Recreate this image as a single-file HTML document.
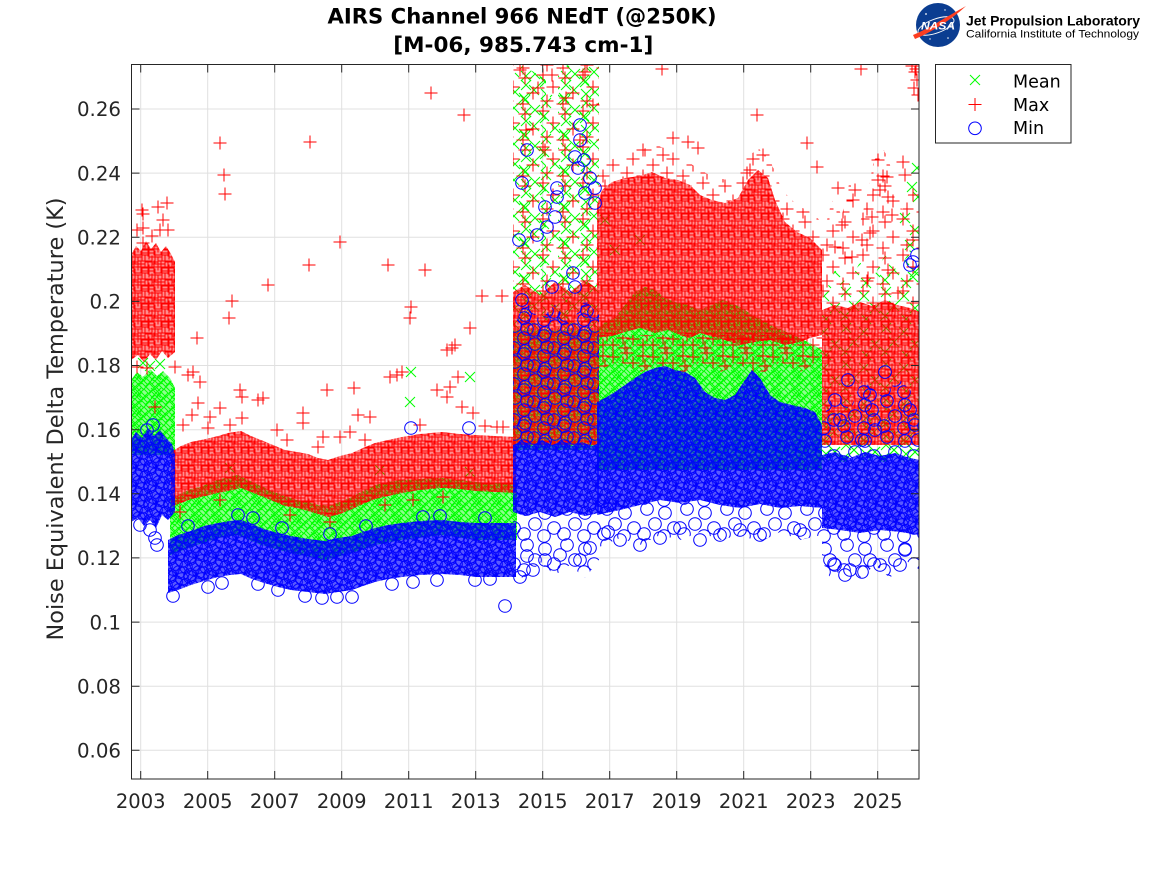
<!DOCTYPE html>
<html><head><meta charset="utf-8">
<style>
html,body{margin:0;padding:0;background:#fff;}
svg{display:block;}
</style></head><body>
<svg width="1167" height="875" viewBox="0 0 1167 875" xmlns="http://www.w3.org/2000/svg">
<defs>
<clipPath id="c"><rect x="131.5" y="64.5" width="787.5" height="714.5"/></clipPath>
<path id="gP" fill="none" stroke="#ff0000" stroke-width="1" d="M-4.5 3h13M2-3.5v13M2.5 1h13M9-5.5v13M8.5 5h13M15-1.5v13M-1.5 9h13M5 2.5v13M5.5 10h13M12 3.5v13M11.5 12h13M18 5.5v13M-5.5 15h13M1 8.5v13M1.5 16h13M8 9.5v13M7.5 15h13M14 8.5v13"/>
<path id="gX" fill="none" stroke="#00ff00" stroke-width="1" d="M-2-3l10 10m-10 0l10-10M5-1l10 10m-10 0l10-10M12-4l10 10m-10 0l10-10M1 4l10 10m-10 0l10-10M9 5l10 10m-10 0l10-10M14 2l10 10m-10 0l10-10M-4 9l10 10m-10 0l10-10M4 11l10 10m-10 0l10-10M11 10l10 10m-10 0l10-10"/>
<path id="gO" fill="none" stroke="#0000ff" stroke-width="1" d="M-4.3 3a6.3 6.3 0 1 0 12.6 0a6.3 6.3 0 1 0-12.6 0M3.7 1a6.3 6.3 0 1 0 12.6 0a6.3 6.3 0 1 0-12.6 0M9.7 6a6.3 6.3 0 1 0 12.6 0a6.3 6.3 0 1 0-12.6 0M-0.3 9a6.3 6.3 0 1 0 12.6 0a6.3 6.3 0 1 0-12.6 0M6.7 11a6.3 6.3 0 1 0 12.6 0a6.3 6.3 0 1 0-12.6 0M12.7 14a6.3 6.3 0 1 0 12.6 0a6.3 6.3 0 1 0-12.6 0M-3.3 15a6.3 6.3 0 1 0 12.6 0a6.3 6.3 0 1 0-12.6 0M3.7 17a6.3 6.3 0 1 0 12.6 0a6.3 6.3 0 1 0-12.6 0"/>
<path id="sP" fill="none" stroke="#ff0000" stroke-width="1" d="M-1.5 6h13M5-0.5v13M16.5 3h13M23-3.5v13M26.5 15h13M33 8.5v13M6.5 21h13M13 14.5v13M20.5 29h13M27 22.5v13M-3.5 32h13M3 25.5v13"/>
<path id="sX" fill="none" stroke="#00ff00" stroke-width="1" d="M1-1l10 10m-10 0l10-10M19 3l10 10m-10 0l10-10M30 15l10 10m-10 0l10-10M9 13l10 10m-10 0l10-10M21 26l10 10m-10 0l10-10M0 23l10 10m-10 0l10-10"/>
<path id="sO" fill="none" stroke="#0000ff" stroke-width="1" d="M0.7 5a6.3 6.3 0 1 0 12.6 0a6.3 6.3 0 1 0-12.6 0M18.7 9a6.3 6.3 0 1 0 12.6 0a6.3 6.3 0 1 0-12.6 0M27.7 24a6.3 6.3 0 1 0 12.6 0a6.3 6.3 0 1 0-12.6 0M8.7 20a6.3 6.3 0 1 0 12.6 0a6.3 6.3 0 1 0-12.6 0M17.7 32a6.3 6.3 0 1 0 12.6 0a6.3 6.3 0 1 0-12.6 0M-2.3 30a6.3 6.3 0 1 0 12.6 0a6.3 6.3 0 1 0-12.6 0"/>
<path id="mP" fill="none" stroke="#ff0000" stroke-width="1" d="M-6.5 0h13M0-6.5v13"/>
<path id="mX" fill="none" stroke="#00ff00" stroke-width="1" d="M-5-5l10 10M-5 5l10-10"/>
<circle id="mO" r="6.3" fill="none" stroke="#0000ff" stroke-width="1"/>

<pattern id="pRd" width="20" height="18" patternUnits="userSpaceOnUse">
<rect width="20" height="18" fill="#ff0000" fill-opacity="0.45"/>
<use href="#gP" x="-20" y="-18"/><use href="#gP" x="0" y="-18"/><use href="#gP" x="20" y="-18"/>
<use href="#gP" x="-20" y="0"/><use href="#gP" x="0" y="0"/><use href="#gP" x="20" y="0"/>
<use href="#gP" x="-20" y="18"/><use href="#gP" x="0" y="18"/><use href="#gP" x="20" y="18"/>
</pattern>
<pattern id="pGd" width="20" height="18" patternUnits="userSpaceOnUse">
<rect width="20" height="18" fill="#00ff00" fill-opacity="0.45"/>
<use href="#gX" x="-20" y="-18"/><use href="#gX" x="0" y="-18"/><use href="#gX" x="20" y="-18"/>
<use href="#gX" x="-20" y="0"/><use href="#gX" x="0" y="0"/><use href="#gX" x="20" y="0"/>
<use href="#gX" x="-20" y="18"/><use href="#gX" x="0" y="18"/><use href="#gX" x="20" y="18"/>
</pattern>
<pattern id="pBd" width="20" height="18" patternUnits="userSpaceOnUse">
<rect width="20" height="18" fill="#0000ff" fill-opacity="0.65"/>
<use href="#gO" x="-20" y="-18"/><use href="#gO" x="0" y="-18"/><use href="#gO" x="20" y="-18"/>
<use href="#gO" x="-20" y="0"/><use href="#gO" x="0" y="0"/><use href="#gO" x="20" y="0"/>
<use href="#gO" x="-20" y="18"/><use href="#gO" x="0" y="18"/><use href="#gO" x="20" y="18"/>
</pattern>
<pattern id="pRs" width="40" height="36" patternUnits="userSpaceOnUse">
<use href="#sP" x="-40" y="-36"/><use href="#sP" x="0" y="-36"/><use href="#sP" x="40" y="-36"/>
<use href="#sP" x="-40" y="0"/><use href="#sP" x="0" y="0"/><use href="#sP" x="40" y="0"/>
<use href="#sP" x="-40" y="36"/><use href="#sP" x="0" y="36"/><use href="#sP" x="40" y="36"/>
</pattern>
<pattern id="pGs" width="40" height="36" patternUnits="userSpaceOnUse">
<use href="#sX" x="-40" y="-36"/><use href="#sX" x="0" y="-36"/><use href="#sX" x="40" y="-36"/>
<use href="#sX" x="-40" y="0"/><use href="#sX" x="0" y="0"/><use href="#sX" x="40" y="0"/>
<use href="#sX" x="-40" y="36"/><use href="#sX" x="0" y="36"/><use href="#sX" x="40" y="36"/>
</pattern>
<pattern id="pBs" width="40" height="36" patternUnits="userSpaceOnUse">
<use href="#sO" x="-40" y="-36"/><use href="#sO" x="0" y="-36"/><use href="#sO" x="40" y="-36"/>
<use href="#sO" x="-40" y="0"/><use href="#sO" x="0" y="0"/><use href="#sO" x="40" y="0"/>
<use href="#sO" x="-40" y="36"/><use href="#sO" x="0" y="36"/><use href="#sO" x="40" y="36"/>
</pattern>
<pattern id="pRm" width="40" height="36" patternUnits="userSpaceOnUse">
<use href="#sP" x="-40" y="-36"/><use href="#sP" x="0" y="-36"/><use href="#sP" x="40" y="-36"/>
<use href="#sP" x="-40" y="0"/><use href="#sP" x="0" y="0"/><use href="#sP" x="40" y="0"/>
<use href="#sP" x="-40" y="36"/><use href="#sP" x="0" y="36"/><use href="#sP" x="40" y="36"/>
<use href="#sP" x="-20" y="-18"/><use href="#sP" x="20" y="-18"/><use href="#sP" x="-20" y="18"/><use href="#sP" x="20" y="18"/>
</pattern>
<pattern id="pGm" width="40" height="36" patternUnits="userSpaceOnUse">
<use href="#sX" x="-40" y="-36"/><use href="#sX" x="0" y="-36"/><use href="#sX" x="40" y="-36"/>
<use href="#sX" x="-40" y="0"/><use href="#sX" x="0" y="0"/><use href="#sX" x="40" y="0"/>
<use href="#sX" x="-40" y="36"/><use href="#sX" x="0" y="36"/><use href="#sX" x="40" y="36"/>
<use href="#sX" x="-20" y="-18"/><use href="#sX" x="20" y="-18"/><use href="#sX" x="-20" y="18"/><use href="#sX" x="20" y="18"/>
</pattern>
<pattern id="pBm" width="40" height="36" patternUnits="userSpaceOnUse">
<use href="#sO" x="-40" y="-36"/><use href="#sO" x="0" y="-36"/><use href="#sO" x="40" y="-36"/>
<use href="#sO" x="-40" y="0"/><use href="#sO" x="0" y="0"/><use href="#sO" x="40" y="0"/>
<use href="#sO" x="-40" y="36"/><use href="#sO" x="0" y="36"/><use href="#sO" x="40" y="36"/>
<use href="#sO" x="-20" y="-18"/><use href="#sO" x="20" y="-18"/><use href="#sO" x="-20" y="18"/><use href="#sO" x="20" y="18"/>
</pattern>
</defs>

<rect width="1167" height="875" fill="#fff"/>

<g stroke="#e0e0e0" stroke-width="1" fill="none">
<path d="M140.7 64.5V779M207.7 64.5V779M274.7 64.5V779M341.7 64.5V779M408.7 64.5V779M475.7 64.5V779M542.7 64.5V779M609.7 64.5V779M676.7 64.5V779M743.7 64.5V779M810.7 64.5V779M877.7 64.5V779"/>
<path d="M131.5 750.3H919M131.5 686.2H919M131.5 622.1H919M131.5 557.9H919M131.5 493.8H919M131.5 429.7H919M131.5 365.5H919M131.5 301.4H919M131.5 237.3H919M131.5 173.1H919M131.5 109H919"/>
</g>

<g clip-path="url(#c)">
<!-- ===== MEAN (green) ===== -->
<path fill="url(#pGd)" d="M131 380L137 372L143 377L150 369L157 376L163 371L170 378L175 388L175 455L131 455Z"/>
<path fill="url(#pGd)" d="M170 500L180 494L191 489L200 487L210 483L218 480L228 477L238 475L250 481L261 486L272 491L285 496L297 500L308 502L318 505L328 506L340 502L352 497L363 491L375 485L388 482L402 480L420 479L442 478L460 480L476 482L495 483L517 484L517 540L476 540L442 535L402 540L375 545L352 553L325 560L291 553L261 545L238 535L218 538L191 547L170 555Z"/>
<path fill="url(#pGm)" d="M513 75L522 66L534 72L546 80L546 330L513 330Z"/>
<path fill="url(#pGs)" d="M546 90L558 100L558 330L546 330Z"/>
<path fill="url(#pGm)" d="M558 70L570 64L585 68L599 64L599 330L558 330Z"/>
<path fill="url(#pGd)" d="M513 330L599 330L599 450L513 450Z"/>
<path fill="url(#pGd)" d="M597 330L605 322L615 318L625 305L635 292L645 287L655 290L665 298L675 302L688 305L700 310L712 305L722 300L732 303L742 308L752 315L762 320L772 326L782 330L795 336L808 342L822 350L822 470L597 470Z"/>
<path fill="url(#pGs)" d="M822 300L835 270L848 285L860 262L872 280L885 255L898 272L910 250L920 240L920 460L822 460Z"/>
<path fill="url(#pGm)" d="M822 410L840 400L860 408L880 398L900 405L920 398L920 462L822 462Z"/>
<g>
<use href="#mX" x="411" y="372"/><use href="#mX" x="410" y="402"/><use href="#mX" x="470" y="377"/>
<use href="#mX" x="143" y="363"/><use href="#mX" x="150" y="366"/><use href="#mX" x="160" y="364"/>
<use href="#mX" x="917" y="168"/><use href="#mX" x="912" y="187"/><use href="#mX" x="918" y="197"/><use href="#mX" x="913" y="277"/>
<use href="#mX" x="915" y="230"/><use href="#mX" x="910" y="245"/><use href="#mX" x="905" y="218"/>
<use href="#mX" x="615" y="250"/><use href="#mX" x="640" y="240"/><use href="#mX" x="605" y="220"/>
<use href="#mX" x="230" y="468"/><use href="#mX" x="380" y="470"/><use href="#mX" x="470" y="472"/>
</g>

<!-- ===== MAX (red) ===== -->
<path fill="url(#pRd)" d="M131 255L136 246L141 251L146 241L151 249L156 243L161 252L166 246L171 254L175 262L175 352L168 358L162 351L156 360L150 354L144 362L138 355L131 360Z"/>
<path fill="url(#pRd)" d="M171 452L181 446L191 442L201 440L210 438L218 436L228 433L241 431L251 436L261 440L273 445L285 450L297 452L308 454L318 458L328 460L340 456L352 453L363 448L375 443L388 440L402 437L420 434L442 432L460 434L476 435L495 436L516 437L516 493L495 492L476 491L460 489L442 488L420 490L402 493L388 496L375 499L363 504L352 509L340 514L328 517L318 514L308 511L297 508L285 506L273 501L261 496L251 492L241 488L228 491L218 493L201 497L191 499L181 503L171 507Z"/>
<path fill="url(#pRs)" d="M513 62L599 62L599 290L585 280L570 292L555 282L540 295L525 285L513 292Z"/>
<path fill="url(#pRd)" d="M513 292L525 285L540 295L555 282L570 292L585 280L599 290L599 445L513 445Z"/>
<path fill="url(#pRs)" d="M597 175L610 160L625 155L640 150L655 145L670 150L685 160L700 170L715 178L730 180L745 160L758 148L770 160L782 190L797 205L810 212L822 222L822 250L810 238L797 232L785 222L775 200L768 178L758 170L748 180L738 198L725 203L712 200L700 195L690 185L678 180L665 178L652 172L640 176L625 178L612 182L602 190L597 205Z"/>
<path fill="url(#pRd)" d="M597 205L602 190L612 182L625 178L640 176L652 172L665 178L678 180L690 185L700 195L712 200L725 203L738 198L748 180L758 170L768 178L775 200L785 222L797 232L810 238L822 250L822 335L810 338L800 342L785 345L770 340L755 342L740 345L725 340L710 336L700 333L690 338L680 335L668 330L655 333L640 328L625 332L612 336L597 338Z"/>
<path fill="url(#pRm)" d="M597 335L822 335L822 360L800 372L780 362L760 375L740 365L720 372L700 362L680 375L660 365L640 372L620 362L597 370Z"/>
<path fill="url(#pRs)" d="M822 240L832 200L842 215L850 180L858 230L866 200L874 160L884 150L894 175L902 210L910 190L920 175L920 312L822 312Z"/>
<path fill="url(#pRd)" d="M822 310L835 305L848 308L860 302L872 306L885 300L897 305L910 308L920 312L920 445L822 445Z"/>
<g>
<use href="#mP" x="142" y="210"/><use href="#mP" x="143" y="214"/><use href="#mP" x="143" y="228"/><use href="#mP" x="158" y="207"/><use href="#mP" x="167" y="203"/><use href="#mP" x="163" y="220"/><use href="#mP" x="168" y="230"/><use href="#mP" x="160" y="230"/><use href="#mP" x="143" y="243"/><use href="#mP" x="137" y="230"/><use href="#mP" x="152" y="236"/><use href="#mP" x="137" y="367"/><use href="#mP" x="155" y="407"/><use href="#mP" x="175" y="367"/><use href="#mP" x="147" y="368"/>
<use href="#mP" x="220" y="143"/><use href="#mP" x="224" y="175"/><use href="#mP" x="225" y="194"/><use href="#mP" x="232" y="301"/><use href="#mP" x="229" y="318"/><use href="#mP" x="268" y="285"/><use href="#mP" x="310" y="142"/><use href="#mP" x="309" y="265"/><use href="#mP" x="340" y="242"/><use href="#mP" x="388" y="265"/><use href="#mP" x="411" y="307"/><use href="#mP" x="410" y="318"/><use href="#mP" x="425" y="270"/><use href="#mP" x="431" y="93"/><use href="#mP" x="464" y="115"/><use href="#mP" x="452" y="348"/><use href="#mP" x="455" y="345"/><use href="#mP" x="470" y="328"/><use href="#mP" x="482" y="296"/><use href="#mP" x="502" y="296"/><use href="#mP" x="354" y="388"/>
<use href="#mP" x="197" y="338"/><use href="#mP" x="188" y="375"/><use href="#mP" x="193" y="372"/><use href="#mP" x="200" y="382"/><use href="#mP" x="198" y="403"/><use href="#mP" x="192" y="415"/><use href="#mP" x="183" y="425"/><use href="#mP" x="240" y="390"/><use href="#mP" x="242" y="397"/><use href="#mP" x="258" y="400"/><use href="#mP" x="263" y="398"/><use href="#mP" x="220" y="408"/><use href="#mP" x="210" y="417"/><use href="#mP" x="242" y="418"/><use href="#mP" x="230" y="425"/><use href="#mP" x="277" y="430"/><use href="#mP" x="303" y="413"/><use href="#mP" x="303" y="423"/><use href="#mP" x="327" y="390"/><use href="#mP" x="323" y="437"/><use href="#mP" x="340" y="437"/><use href="#mP" x="350" y="432"/><use href="#mP" x="358" y="415"/><use href="#mP" x="370" y="417"/><use href="#mP" x="390" y="377"/><use href="#mP" x="397" y="375"/><use href="#mP" x="402" y="372"/><use href="#mP" x="447" y="350"/><use href="#mP" x="458" y="377"/><use href="#mP" x="450" y="387"/><use href="#mP" x="437" y="390"/><use href="#mP" x="447" y="397"/><use href="#mP" x="462" y="407"/><use href="#mP" x="473" y="413"/><use href="#mP" x="497" y="427"/><use href="#mP" x="503" y="427"/><use href="#mP" x="413" y="500"/><use href="#mP" x="443" y="497"/><use href="#mP" x="220" y="500"/><use href="#mP" x="290" y="515"/><use href="#mP" x="330" y="522"/><use href="#mP" x="385" y="505"/><use href="#mP" x="180" y="512"/>
<use href="#mP" x="208" y="428"/><use href="#mP" x="287" y="440"/><use href="#mP" x="318" y="447"/><use href="#mP" x="365" y="440"/><use href="#mP" x="420" y="425"/><use href="#mP" x="485" y="426"/>
<use href="#mP" x="520" y="70"/><use href="#mP" x="538" y="88"/><use href="#mP" x="552" y="75"/><use href="#mP" x="566" y="98"/><use href="#mP" x="585" y="72"/><use href="#mP" x="593" y="105"/><use href="#mP" x="526" y="130"/><use href="#mP" x="545" y="150"/><use href="#mP" x="580" y="140"/>
<use href="#mP" x="662" y="69"/><use href="#mP" x="673" y="138"/><use href="#mP" x="688" y="142"/><use href="#mP" x="698" y="148"/><use href="#mP" x="643" y="150"/><use href="#mP" x="663" y="155"/><use href="#mP" x="757" y="115"/><use href="#mP" x="807" y="143"/><use href="#mP" x="817" y="167"/><use href="#mP" x="750" y="170"/><use href="#mP" x="763" y="155"/>
<use href="#mP" x="878" y="160"/><use href="#mP" x="903" y="162"/><use href="#mP" x="887" y="177"/><use href="#mP" x="888" y="197"/><use href="#mP" x="838" y="188"/><use href="#mP" x="855" y="190"/><use href="#mP" x="853" y="200"/><use href="#mP" x="872" y="217"/><use href="#mP" x="870" y="233"/><use href="#mP" x="835" y="247"/><use href="#mP" x="852" y="257"/><use href="#mP" x="868" y="278"/><use href="#mP" x="888" y="270"/><use href="#mP" x="913" y="240"/><use href="#mP" x="898" y="293"/><use href="#mP" x="861" y="69"/><use href="#mP" x="878" y="180"/><use href="#mP" x="880" y="190"/><use href="#mP" x="905" y="175"/><use href="#mP" x="892" y="215"/><use href="#mP" x="842" y="225"/><use href="#mP" x="862" y="240"/>
<use href="#mP" x="912" y="66"/><use href="#mP" x="915" y="72"/><use href="#mP" x="917" y="80"/><use href="#mP" x="914" y="88"/><use href="#mP" x="918" y="95"/><use href="#mP" x="916" y="69"/>
</g>

<!-- ===== MIN (blue) ===== -->
<path fill="url(#pBd)" d="M131 440L136 432L142 438L148 428L154 436L160 430L166 438L172 444L175 455L175 512L168 520L162 515L156 528L150 520L144 526L138 518L131 522Z"/>
<path fill="url(#pBd)" d="M168 540L178 535L191 531L204 526L218 523L230 521L241 520L252 524L264 529L278 533L291 536L308 539L325 541L338 538L352 536L363 532L375 528L388 525L402 523L420 521L442 520L460 522L476 523L495 523L516 523L516 577L495 577L476 577L460 575L442 574L420 575L402 577L388 579L375 582L363 586L352 590L338 592L325 594L308 592L291 590L278 587L264 583L252 579L241 574L230 575L218 577L204 581L191 585L178 590L168 593Z"/>
<path fill="url(#pBm)" d="M513 330L525 300L540 320L555 305L570 325L585 300L599 315L599 445L513 445Z"/>
<path fill="url(#pBd)" d="M513 445L522 441L532 446L542 440L552 445L562 441L572 446L582 442L592 446L599 443L599 513L585 516L570 512L555 517L540 512L525 516L513 512Z"/>
<path fill="url(#pBs)" d="M513 512L599 512L599 560L585 578L570 565L555 575L540 562L525 580L513 570Z"/>
<path fill="url(#pBd)" d="M597 402L605 398L615 392L625 385L635 378L645 372L655 368L665 366L675 370L685 372L695 378L705 392L715 398L725 400L735 395L745 380L752 370L760 378L770 395L780 402L792 405L805 408L815 412L822 425L822 508L800 506L780 508L760 504L740 508L720 505L700 500L680 503L660 500L640 505L620 510L597 515Z"/>
<path fill="url(#pBs)" d="M597 500L822 500L822 535L800 540L780 532L760 542L740 535L720 540L700 532L680 540L660 535L640 545L620 538L597 548Z"/>
<path fill="url(#pBs)" d="M822 420L835 390L850 410L862 380L880 395L900 380L920 400L920 458L822 458Z"/>
<path fill="url(#pBd)" d="M822 455L835 452L850 458L865 452L880 456L895 453L910 458L920 460L920 535L900 532L880 530L860 533L840 530L822 528Z"/>
<path fill="url(#pBs)" d="M822 528L920 528L920 570L905 560L890 578L875 565L860 578L845 568L830 578L822 560Z"/>
<g>
<use href="#mO" x="505" y="606"/><use href="#mO" x="352" y="597"/><use href="#mO" x="411" y="428"/><use href="#mO" x="469" y="428"/>
<use href="#mO" x="173" y="596"/><use href="#mO" x="208" y="587"/><use href="#mO" x="222" y="583"/><use href="#mO" x="258" y="584"/><use href="#mO" x="278" y="590"/><use href="#mO" x="305" y="596"/><use href="#mO" x="322" y="598"/><use href="#mO" x="337" y="597"/><use href="#mO" x="392" y="584"/><use href="#mO" x="413" y="582"/><use href="#mO" x="437" y="580"/><use href="#mO" x="475" y="580"/><use href="#mO" x="490" y="579"/>
<use href="#mO" x="188" y="526"/><use href="#mO" x="238" y="515"/><use href="#mO" x="253" y="518"/><use href="#mO" x="282" y="528"/><use href="#mO" x="440" y="516"/><use href="#mO" x="423" y="517"/><use href="#mO" x="485" y="518"/><use href="#mO" x="330" y="534"/><use href="#mO" x="366" y="526"/>
<use href="#mO" x="150" y="530"/><use href="#mO" x="155" y="538"/><use href="#mO" x="157" y="545"/><use href="#mO" x="140" y="525"/><use href="#mO" x="153" y="425"/><use href="#mO" x="147" y="430"/>
<use href="#mO" x="527" y="150"/><use href="#mO" x="522" y="183"/><use href="#mO" x="557" y="188"/><use href="#mO" x="557" y="197"/><use href="#mO" x="545" y="207"/><use href="#mO" x="547" y="227"/><use href="#mO" x="537" y="235"/><use href="#mO" x="555" y="217"/><use href="#mO" x="580" y="125"/><use href="#mO" x="580" y="140"/><use href="#mO" x="575" y="157"/><use href="#mO" x="578" y="168"/><use href="#mO" x="585" y="193"/><use href="#mO" x="595" y="188"/><use href="#mO" x="595" y="203"/><use href="#mO" x="573" y="273"/><use href="#mO" x="575" y="287"/><use href="#mO" x="552" y="287"/><use href="#mO" x="522" y="300"/><use href="#mO" x="519" y="240"/><use href="#mO" x="584" y="160"/><use href="#mO" x="590" y="178"/>
<use href="#mO" x="520" y="577"/><use href="#mO" x="533" y="570"/><use href="#mO" x="545" y="560"/><use href="#mO" x="560" y="555"/><use href="#mO" x="580" y="560"/><use href="#mO" x="527" y="556"/><use href="#mO" x="590" y="548"/>
<use href="#mO" x="620" y="540"/><use href="#mO" x="640" y="545"/><use href="#mO" x="660" y="538"/><use href="#mO" x="700" y="540"/><use href="#mO" x="720" y="535"/><use href="#mO" x="760" y="535"/><use href="#mO" x="800" y="530"/><use href="#mO" x="608" y="532"/><use href="#mO" x="680" y="528"/><use href="#mO" x="740" y="530"/>
<use href="#mO" x="835" y="565"/><use href="#mO" x="850" y="570"/><use href="#mO" x="862" y="572"/><use href="#mO" x="880" y="565"/><use href="#mO" x="845" y="575"/><use href="#mO" x="870" y="560"/><use href="#mO" x="830" y="560"/><use href="#mO" x="905" y="550"/><use href="#mO" x="900" y="565"/>
<use href="#mO" x="913" y="262"/><use href="#mO" x="917" y="255"/><use href="#mO" x="910" y="265"/>
<use href="#mO" x="835" y="400"/><use href="#mO" x="840" y="420"/><use href="#mO" x="848" y="380"/><use href="#mO" x="870" y="395"/><use href="#mO" x="872" y="410"/><use href="#mO" x="875" y="430"/><use href="#mO" x="910" y="410"/><use href="#mO" x="915" y="425"/><use href="#mO" x="918" y="440"/><use href="#mO" x="885" y="372"/><use href="#mO" x="862" y="440"/>
</g>
</g>

<g stroke="#262626" stroke-width="1" fill="none">
<rect x="131.5" y="64.5" width="787.5" height="714.5"/>
<path d="M140.7 779v-8M207.7 779v-8M274.7 779v-8M341.7 779v-8M408.7 779v-8M475.7 779v-8M542.7 779v-8M609.7 779v-8M676.7 779v-8M743.7 779v-8M810.7 779v-8M877.7 779v-8"/>
<path d="M140.7 64.5v8M207.7 64.5v8M274.7 64.5v8M341.7 64.5v8M408.7 64.5v8M475.7 64.5v8M542.7 64.5v8M609.7 64.5v8M676.7 64.5v8M743.7 64.5v8M810.7 64.5v8M877.7 64.5v8"/>
<path d="M131.5 750.3h8M131.5 686.2h8M131.5 622.1h8M131.5 557.9h8M131.5 493.8h8M131.5 429.7h8M131.5 365.5h8M131.5 301.4h8M131.5 237.3h8M131.5 173.1h8M131.5 109h8"/>
<path d="M919 750.3h-8M919 686.2h-8M919 622.1h-8M919 557.9h-8M919 493.8h-8M919 429.7h-8M919 365.5h-8M919 301.4h-8M919 237.3h-8M919 173.1h-8M919 109h-8"/>
</g>

<g font-family="DejaVu Sans, Liberation Sans, sans-serif" font-size="19.8" fill="#262626" text-anchor="end">
<text x="121" y="757.5">0.06</text>
<text x="121" y="693.4">0.08</text>
<text x="121" y="629.3">0.1</text>
<text x="121" y="565.1">0.12</text>
<text x="121" y="501">0.14</text>
<text x="121" y="436.9">0.16</text>
<text x="121" y="372.7">0.18</text>
<text x="121" y="308.6">0.2</text>
<text x="121" y="244.5">0.22</text>
<text x="121" y="180.3">0.24</text>
<text x="121" y="116.2">0.26</text>
</g>
<g font-family="DejaVu Sans, Liberation Sans, sans-serif" font-size="19.5" fill="#262626" text-anchor="middle">
<text x="140.7" y="808">2003</text>
<text x="207.7" y="808">2005</text>
<text x="274.7" y="808">2007</text>
<text x="341.7" y="808">2009</text>
<text x="408.7" y="808">2011</text>
<text x="475.7" y="808">2013</text>
<text x="542.7" y="808">2015</text>
<text x="609.7" y="808">2017</text>
<text x="676.7" y="808">2019</text>
<text x="743.7" y="808">2021</text>
<text x="810.7" y="808">2023</text>
<text x="877.7" y="808">2025</text>
</g>

<text transform="translate(63,419) rotate(-90)" font-family="DejaVu Sans, Liberation Sans, sans-serif" font-size="22" fill="#262626" text-anchor="middle" textLength="443" lengthAdjust="spacingAndGlyphs">Noise Equivalent Delta Temperature (K)</text>

<g font-family="DejaVu Sans, Liberation Sans, sans-serif" font-size="21.5" font-weight="bold" fill="#000" text-anchor="middle">
<text x="522" y="23.5" textLength="389" lengthAdjust="spacingAndGlyphs">AIRS Channel 966 NEdT (@250K)</text>
<text x="523.3" y="52" textLength="260" lengthAdjust="spacingAndGlyphs">[M-06, 985.743 cm-1]</text>
</g>

<g>
<circle cx="938" cy="25" r="22" fill="#0b3d91"/>
<circle cx="926" cy="14" r="0.9" fill="#fff"/>
<circle cx="948" cy="38" r="0.8" fill="#fff"/>
<circle cx="930" cy="39" r="0.7" fill="#fff"/>
<circle cx="945" cy="10" r="0.7" fill="#fff"/>
<ellipse cx="936" cy="26" rx="19" ry="7" fill="none" stroke="#fff" stroke-width="0.9" transform="rotate(-20 936 26)"/>
<path d="M913 35 C 928 29, 946 17, 966 6 C 952 19, 934 31, 915 39 Z" fill="#fc3d21"/>
<text x="938" y="29.5" font-family="Liberation Sans, sans-serif" font-weight="bold" font-style="italic" font-size="11" fill="#fff" text-anchor="middle" textLength="34" lengthAdjust="spacingAndGlyphs">NASA</text>
<text x="966" y="25.5" font-family="Liberation Sans, sans-serif" font-weight="bold" font-size="14" fill="#000" textLength="174" lengthAdjust="spacingAndGlyphs">Jet Propulsion Laboratory</text>
<text x="966" y="37.5" font-family="Liberation Sans, sans-serif" font-size="11" fill="#000" textLength="173" lengthAdjust="spacingAndGlyphs">California Institute of Technology</text>
</g>

<g>
<rect x="935.5" y="64.5" width="135.5" height="78.5" fill="#fff" stroke="#262626" stroke-width="1"/>
<path d="M970 75l10 10M970 85l10-10" stroke="#00ff00" stroke-width="1" fill="none"/>
<path d="M968.5 104.5h13M975 98v13" stroke="#ff0000" stroke-width="1" fill="none"/>
<circle cx="975" cy="128.3" r="6.3" stroke="#0000ff" stroke-width="1" fill="none"/>
<g font-family="DejaVu Sans, Liberation Sans, sans-serif" font-size="17.5" fill="#000">
<text x="1013" y="87.7">Mean</text>
<text x="1013" y="110.8">Max</text>
<text x="1013" y="134.2">Min</text>
</g>
</g>
</svg>
</body></html>
